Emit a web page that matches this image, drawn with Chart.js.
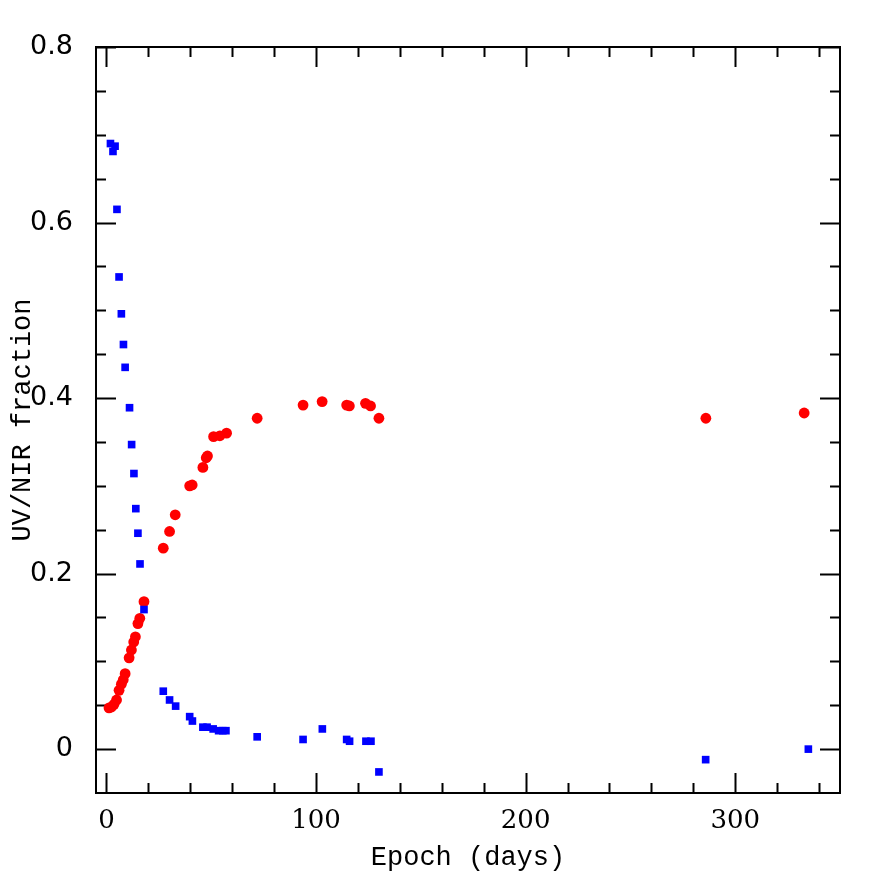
<!DOCTYPE html>
<html>
<head>
<meta charset="utf-8">
<script src="https://cdn.jsdelivr.net/npm/chart.js@4/dist/chart.umd.min.js"></script>
<style>
  html, body { margin: 0; padding: 0; background: #fff; }
  #wrap { width: 888px; height: 888px; }
</style>
</head>
<body>
<div id="wrap"><canvas id="chart" width="888" height="888"></canvas></div>
<script>
// UV fraction (blue squares)
const uvDays = [1.9, 3.1, 4.1, 5.0, 6.0, 7.1, 8.1, 8.9, 11.0, 12.0, 13.1, 14.0, 15.0, 16.0, 17.9,
  27.1, 30.1, 33.0, 39.7, 41.0, 46.0, 48.0, 50.9, 53.5, 55.5, 57.0, 71.9, 93.8, 103.0,
  114.6, 116.0, 123.8, 126.2, 130.0, 285.9, 334.9];
const uvFrac = [0.690, 0.681, 0.687, 0.615, 0.538, 0.496, 0.461, 0.435, 0.389, 0.347, 0.314, 0.274, 0.246, 0.211, 0.159,
  0.066, 0.056, 0.049, 0.037, 0.032, 0.025, 0.025, 0.023, 0.021, 0.021, 0.021, 0.014, 0.011, 0.023,
  0.011, 0.009, 0.009, 0.009, -0.026, -0.012, 0.000];

// NIR fraction (red circles)
const nirDays = [1.2, 2.4, 3.6, 4.8, 6.0, 7.1, 8.0, 8.9, 10.8, 11.9, 13.0, 13.8, 15.0, 15.9, 17.9,
  27.1, 30.1, 32.8, 39.7, 40.9, 46.0, 47.6, 48.2, 51.1, 54.1, 57.3, 71.9, 93.8, 102.9,
  114.6, 115.9, 123.6, 126.0, 130.0, 286.0, 332.9];
const nirFrac = [0.047, 0.048, 0.051, 0.056, 0.067, 0.074, 0.079, 0.086, 0.104, 0.113, 0.122, 0.128, 0.143, 0.149, 0.168,
  0.229, 0.248, 0.267, 0.300, 0.301, 0.321, 0.332, 0.334, 0.356, 0.357, 0.360, 0.377, 0.392, 0.396,
  0.392, 0.391, 0.394, 0.391, 0.377, 0.377, 0.383];

const xTickLabels = [0, 100, 200, 300];
const yTickLabels = [0, 0.2, 0.4, 0.6, 0.8];

function toPoints(xs, ys) {
  return xs.map((x, i) => ({ x: x, y: ys[i] }));
}

// inward ticks on all four sides, PGPLOT style
const frameTicks = {
  id: "frameTicks",
  beforeDatasetsDraw(chart) {
    const { ctx, chartArea: a, scales: { x, y } } = chart;
    ctx.save();
    ctx.strokeStyle = "#000";
    ctx.lineWidth = 2;
    ctx.lineCap = "butt";
    ctx.beginPath();
    for (let v = 0; v <= 340; v += 20) {
      const px = Math.round(x.getPixelForValue(v)) + 0.5;
      const len = v % 100 === 0 ? 20 : 10;
      ctx.moveTo(px, a.bottom); ctx.lineTo(px, a.bottom - len);
      ctx.moveTo(px, a.top); ctx.lineTo(px, a.top + len);
    }
    for (let k = 0; k <= 16; k++) {
      const v = k * 0.05;
      const py = Math.round(y.getPixelForValue(v)) + 0.5;
      const len = k % 4 === 0 ? 20 : 10;
      ctx.moveTo(a.left, py); ctx.lineTo(a.left + len, py);
      ctx.moveTo(a.right, py); ctx.lineTo(a.right - len, py);
    }
    ctx.stroke();
    ctx.strokeRect(a.left, a.top, a.right - a.left, a.bottom - a.top);
    ctx.restore();
  }
};

const titleFont = { family: "'Liberation Mono', monospace", size: 27 };

new Chart(document.getElementById("chart"), {
  type: "scatter",
  data: {
    datasets: [
      {
        label: "UV",
        data: toPoints(uvDays, uvFrac),
        pointStyle: "rect",
        pointRadius: 5.4,
        pointBorderWidth: 0,
        backgroundColor: "#0000ff",
        borderColor: "#0000ff",
        order: 0
      },
      {
        label: "NIR",
        data: toPoints(nirDays, nirFrac),
        pointStyle: "circle",
        pointRadius: 5.4,
        pointBorderWidth: 0,
        backgroundColor: "#ff0000",
        borderColor: "#ff0000",
        order: 1
      }
    ]
  },
  options: {
    responsive: false,
    animation: false,
    layout: { padding: { top: 47, right: 48, left: 0, bottom: 0 } },
    plugins: {
      legend: { display: false },
      tooltip: { enabled: false }
    },
    scales: {
      x: {
        type: "linear",
        min: -5,
        max: 350,
        grid: { display: false },
        border: { display: false },
        afterBuildTicks: (s) => { s.ticks = xTickLabels.map(v => ({ value: v })); },
        afterFit: (s) => { s.height = 95; },
        ticks: {
          padding: 5,
          maxRotation: 0,
          color: "#000",
          font: { family: "'DejaVu Serif', serif", size: 26 },
          callback: (v) => String(v)
        },
        title: {
          display: true,
          text: "Epoch (days)",
          color: "#000",
          font: titleFont,
          padding: { top: 0, bottom: 14 }
        }
      },
      y: {
        type: "linear",
        min: -0.05,
        max: 0.8,
        grid: { display: false },
        border: { display: false },
        afterBuildTicks: (s) => { s.ticks = yTickLabels.map(v => ({ value: v })); },
        afterFit: (s) => { s.width = 96; },
        ticks: {
          padding: 15,
          color: "#000",
          font: { family: "'DejaVu Sans', sans-serif", size: 27 },
          callback: (v) => (v === 0 ? "0" : v.toFixed(1))
        },
        title: {
          display: true,
          text: "UV/NIR fraction",
          color: "#000",
          font: titleFont,
          padding: { top: 7, bottom: 0 }
        }
      }
    }
  },
  plugins: [frameTicks]
});
</script>
</body>
</html>
